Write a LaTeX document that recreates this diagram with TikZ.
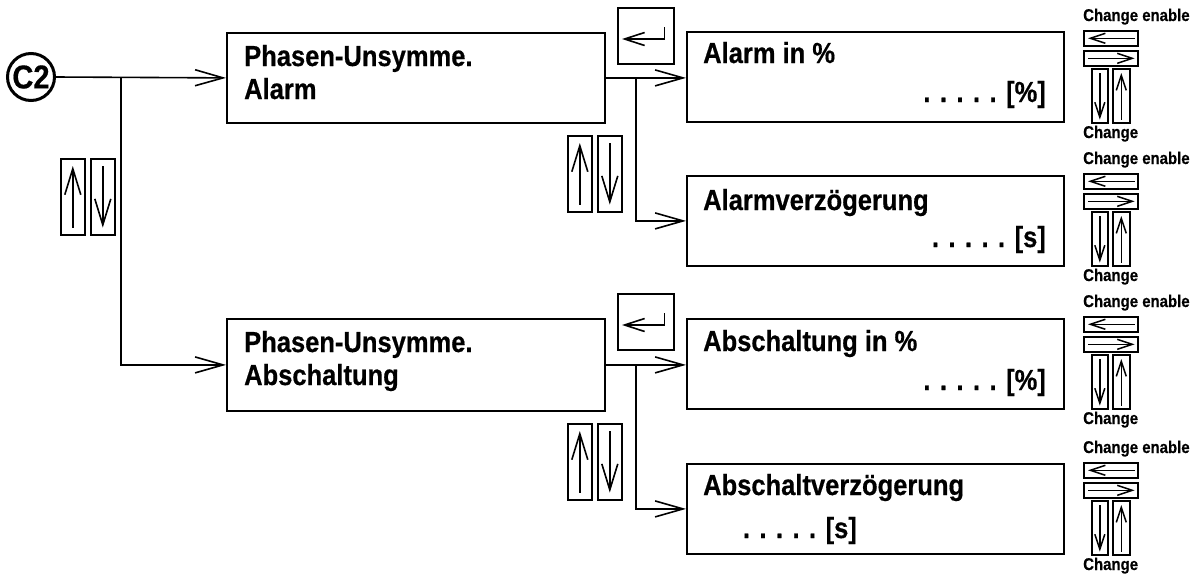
\documentclass[tikz,border=0pt]{standalone}
\usepackage{fontspec}
\setmainfont{Liberation Sans}[FakeStretch=0.88, BoldFeatures={FakeBold=0.5}]
\usetikzlibrary{arrows.meta,calc}
\tikzset{
 box/.style={draw, line width=1.8pt, inner sep=0pt, anchor=north west},
 key/.style={draw, line width=1.6pt, inner sep=0pt, anchor=north west},
 conn/.style={line width=1.6pt, -{Straight Barb[length=28pt,width=16pt]}},
 karrow/.style={line width=1.6pt, -{Straight Barb[length=26pt,width=16pt]}},
 earrow/.style={line width=1.6pt, -{Straight Barb[length=20pt,width=13pt]}},
 sarrow/.style={line width=1.5pt, -{Straight Barb[length=15pt,width=10pt]}},
 big/.style={font=\fontsize{29}{33}\selectfont\bfseries, inner sep=0pt},
 small/.style={font=\fontsize{17}{20}\selectfont\bfseries, inner sep=0pt, anchor=base west},
}
\newcommand\ckeys[2]{%
 \node[small] (#1ce) at (1083,#2-9) {Change enable};
 \node[key, minimum width=54pt, minimum height=15pt] (#1l) at (1083,#2) {};
 \node[key, minimum width=54pt, minimum height=15pt] (#1r) at (1083,#2+20) {};
 \node[key, minimum width=16pt, minimum height=54pt] (#1d) at (1091,#2+38) {};
 \node[key, minimum width=17pt, minimum height=54pt] (#1u) at (1112,#2+38) {};
 \node[small] (#1ch) at (1083,#2+108) {Change};
 \draw[sarrow] ([xshift=-4pt]#1l.east) -- ([xshift=5pt]#1l.west);
 \draw[sarrow] ([xshift=5pt]#1r.west) -- ([xshift=-4pt]#1r.east);
 \draw[sarrow] ([yshift=-5pt]#1d.north) -- ([yshift=4pt]#1d.south);
 \draw[sarrow] ([yshift=4pt]#1u.south) -- ([yshift=-5pt]#1u.north);
}
\newcommand\udkeys[3]{%
 \node[key, minimum width=24pt, minimum height=76pt] (#1u) at (#2,#3) {};
 \node[key, minimum width=24pt, minimum height=76pt] (#1d) at (#2+30,#3) {};
 \draw[karrow] ([yshift=8pt]#1u.south) -- ([yshift=-8pt]#1u.north);
 \draw[karrow] ([yshift=-8pt]#1d.north) -- ([yshift=8pt]#1d.south);
}
\newcommand\enterkey[2]{%
 \node[key, minimum width=56pt, minimum height=56pt] (#1) at (617,#2) {};
 \draw[earrow] ($(#1.north east)+(-10,20)$) -- ($(#1.north east)+(-10,32)$) -- ($(#1.north west)+(5,32)$);
}
\begin{document}
\begin{tikzpicture}[x=1pt,y=-1pt]
\useasboundingbox (0,0) rectangle (1198,579);
% start
\node[circle, draw, line width=3pt, minimum size=47pt, inner sep=0pt,
      font=\fontsize{33}{33}\selectfont\bfseries] (c2) at (31,77) {C2};
% boxes
\node[box, minimum width=378pt, minimum height=90pt] (b1) at (226,32) {};
\node[box, minimum width=377pt, minimum height=90pt] (b2) at (686,31) {};
\node[box, minimum width=377pt, minimum height=90pt] (b3) at (686,175) {};
\node[box, minimum width=378pt, minimum height=92pt] (b4) at (226,318) {};
\node[box, minimum width=377pt, minimum height=90pt] (b5) at (686,318) {};
\node[box, minimum width=377pt, minimum height=90pt] (b6) at (686,463) {};
% texts
\node[big, anchor=base west] (t1a) at (244,66) {Phasen-Unsymme.};
\node[big, anchor=base west] (t1b) at (244,99) {Alarm};
\node[big, anchor=base west] (t2a) at (703,63) {Alarm in \%};
\node[big, anchor=base east] (t2b) at (1046,102) {. . . . . [\%]};
\node[big, anchor=base west] (t3a) at (703,210) {Alarmverzögerung};
\node[big, anchor=base east] (t3b) at (1046,247) {. . . . . [s]};
\node[big, anchor=base west] (t4a) at (244,352) {Phasen-Unsymme.};
\node[big, anchor=base west] (t4b) at (244,385) {Abschaltung};
\node[big, anchor=base west] (t5a) at (703,351) {Abschaltung in \%};
\node[big, anchor=base east] (t5b) at (1046,390) {. . . . . [\%]};
\node[big, anchor=base west] (t6a) at (703,495) {Abschaltverzögerung};
\node[big, anchor=base east] (t6b) at (857,538) {. . . . . [s]};
% junctions
\coordinate (j1) at (121,77);
\coordinate (j2) at (636,77);
\coordinate (j3) at (636,364);
% connectors
\draw[conn] (c2.east) -- (b1.west);
\draw[conn] (j1) |- (b4.west);
\draw[conn] (b1.east) -- (b1.east -| b2.west);
\draw[conn] (j2) |- (b3.west);
\draw[conn] (b4.east) -- (b4.east -| b5.west);
\draw[conn] (j3) |- (b6.west);
% keys
\enterkey{e1}{7}
\enterkey{e2}{293}
\udkeys{lk}{60}{158}
\udkeys{mk}{567}{135}
\udkeys{nk}{567}{423}
\ckeys{ka}{30}
\ckeys{kb}{173}
\ckeys{kc}{316}
\ckeys{kd}{462}
\end{tikzpicture}
\end{document}
